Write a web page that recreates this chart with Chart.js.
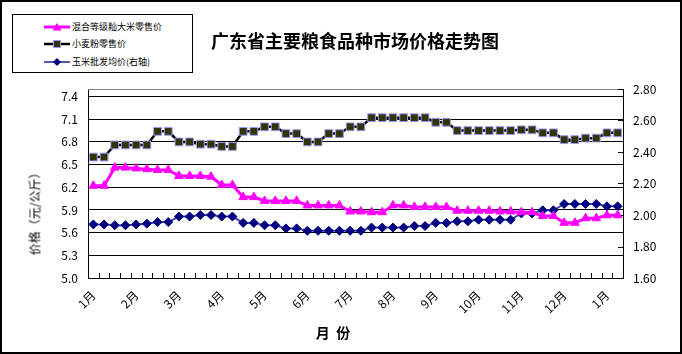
<!DOCTYPE html>
<html>
<head>
<meta charset="utf-8">
<script src="https://cdn.jsdelivr.net/npm/chart.js@4.4.0/dist/chart.umd.min.js"></script>
<style>
  html, body { margin: 0; padding: 0; background: #fff; }
  #wrap { position: relative; width: 682px; height: 354px; overflow: hidden;
          font-family: SimSun, "Noto Sans CJK SC", sans-serif; color: #000; }
  #chart { position: absolute; left: 0; top: 0; }
  #frame { position: absolute; left: 0; top: 0; width: 682px; height: 354px;
           box-sizing: border-box; border: 2px solid #000; pointer-events: none; }
  #title { position: absolute; left: 190px; top: 27px; width: 330px; text-align: center;
           font-size: 18px; font-weight: bold; white-space: nowrap; }
  #legend { position: absolute; left: 12px; top: 14px; width: 181px; height: 59px;
            box-sizing: border-box; border: 1px solid #000; background: #fff; }
  .row { position: absolute; left: 31px; height: 12px; font-size: 9px; line-height: 12px; white-space: nowrap; }
  .row svg { position: absolute; left: 0; top: 1px; }
  .row span { position: absolute; left: 28px; top: 0; }
  #ytitle { position: absolute; left: 34px; top: 211px; font-size: 12px; white-space: nowrap;
            transform: translate(-50%, -50%) rotate(-90deg); }
  #xtitle { position: absolute; left: 333px; top: 332px; font-size: 14px; font-weight: bold;
            white-space: pre; transform: translate(-50%, -50%); }
</style>
</head>
<body>
<div id="wrap">
  <canvas id="chart" width="682" height="354"></canvas>
  <div id="title">广东省主要粮食品种市场价格走势图</div>
  <div id="legend">
    <div class="row" style="top:6px">
      <svg width="26" height="10"><line x1="0" y1="5" x2="26" y2="5" stroke="#FF00FF" stroke-width="3"/><polygon points="13,1 17.5,8.5 8.5,8.5" fill="#FF00FF"/></svg>
      <span>混合等级籼大米零售价</span>
    </div>
    <div class="row" style="top:23px">
      <svg width="26" height="10"><line x1="0" y1="5" x2="26" y2="5" stroke="#000" stroke-width="2.5"/><rect x="9.5" y="1.5" width="7" height="7" fill="#333300" stroke="#9999FF" stroke-width="1"/></svg>
      <span>小麦粉零售价</span>
    </div>
    <div class="row" style="top:41px">
      <svg width="26" height="10"><line x1="0" y1="5" x2="26" y2="5" stroke="#5555AA" stroke-width="2"/><polygon points="13,1 17,5 13,9 9,5" fill="#000080"/></svg>
      <span>玉米批发均价(右轴)</span>
    </div>
  </div>
  <div id="ytitle">价格（元/公斤）</div>
  <div id="xtitle">月  份</div>
  <div id="frame"></div>
</div>
<script>
(function() {
  'use strict';

  // 月份标签（每4期标一次）
  const monthLabels = ['1月', '2月', '3月', '4月', '5月', '6月', '7月', '8月', '9月', '10月', '11月', '12月', '1月'];
  const labelEvery = 4;

  // 混合等级籼大米零售价（左轴，元/公斤）
  const riceRetail = [
    6.22, 6.22, 6.46, 6.46, 6.45, 6.44, 6.43, 6.43, 6.35, 6.35,
    6.35, 6.34, 6.23, 6.23, 6.07, 6.07, 6.02, 6.02, 6.02, 6.02,
    5.96, 5.96, 5.96, 5.96, 5.88, 5.88, 5.87, 5.87, 5.96, 5.96,
    5.94, 5.94, 5.94, 5.94, 5.89, 5.89, 5.89, 5.89, 5.88, 5.88,
    5.87, 5.87, 5.82, 5.82, 5.73, 5.73, 5.79, 5.79, 5.83, 5.83
  ];

  // 小麦粉零售价（左轴）
  const flourRetail = [
    6.60, 6.60, 6.76, 6.76, 6.76, 6.76, 6.94, 6.94, 6.80, 6.80,
    6.77, 6.77, 6.74, 6.74, 6.94, 6.94, 7.00, 7.00, 6.91, 6.91,
    6.80, 6.80, 6.91, 6.91, 7.00, 7.00, 7.12, 7.12, 7.12, 7.12,
    7.12, 7.12, 7.06, 7.06, 6.95, 6.95, 6.95, 6.95, 6.95, 6.95,
    6.96, 6.96, 6.92, 6.92, 6.83, 6.83, 6.85, 6.85, 6.92, 6.92
  ];

  // 玉米批发均价（右轴）
  const cornWholesale = [
    1.94, 1.94, 1.935, 1.935, 1.94, 1.945, 1.955, 1.955, 1.99, 1.99,
    2.00, 2.00, 1.99, 1.99, 1.95, 1.95, 1.935, 1.935, 1.915, 1.915,
    1.90, 1.90, 1.90, 1.90, 1.90, 1.90, 1.92, 1.92, 1.92, 1.92,
    1.93, 1.93, 1.95, 1.95, 1.96, 1.96, 1.97, 1.97, 1.97, 1.97,
    2.01, 2.01, 2.03, 2.03, 2.07, 2.07, 2.07, 2.07, 2.055, 2.055
  ];

  const leftTicks = [5.0, 5.3, 5.6, 5.9, 6.2, 6.5, 6.8, 7.1, 7.4];
  const rightTicks = [1.6, 1.8, 2.0, 2.2, 2.4, 2.6, 2.8];

  const labels = riceRetail.map((v, i) => (i % labelEvery === 0 ? monthLabels[i / labelEvery] : ''));

  const tickFont = { family: 'SimSun, "Noto Sans CJK SC", sans-serif', size: 12 };

  // 内向刻度线 + 顶部灰色边框
  const innerTicks = {
    id: 'innerTicks',
    beforeDatasetsDraw(chart) {
      const ctx = chart.ctx;
      const area = chart.chartArea;
      const x = chart.scales.x;
      const y1 = chart.scales.y1;
      ctx.save();
      ctx.strokeStyle = '#808080';
      ctx.lineWidth = 1;
      ctx.beginPath();
      ctx.moveTo(area.left, area.top + 0.5);
      ctx.lineTo(area.right, area.top + 0.5);
      ctx.stroke();
      ctx.strokeStyle = '#000';
      ctx.beginPath();
      for (let i = 0; i <= labels.length; i++) {
        const px = Math.round(x.getPixelForValue(i - 0.5)) + 0.5;
        ctx.moveTo(px, area.bottom);
        ctx.lineTo(px, area.bottom - 5);
      }
      y1.ticks.forEach(t => {
        const py = Math.round(y1.getPixelForValue(t.value)) + 0.5;
        ctx.moveTo(area.right, py);
        ctx.lineTo(area.right - 5, py);
      });
      ctx.stroke();
      ctx.restore();
    }
  };

  function init() {
    const ctx = document.getElementById('chart').getContext('2d');
    new Chart(ctx, {
      type: 'line',
      data: {
        labels: labels,
        datasets: [{
          label: '混合等级籼大米零售价',
          data: riceRetail,
          yAxisID: 'y',
          borderColor: '#FF00FF',
          backgroundColor: '#FF00FF',
          borderWidth: 3,
          pointStyle: 'triangle',
          pointRadius: 5,
          pointBorderWidth: 1,
          tension: 0
        }, {
          label: '小麦粉零售价',
          data: flourRetail,
          yAxisID: 'y',
          borderColor: '#000000',
          backgroundColor: '#333300',
          pointBorderColor: '#9999FF',
          borderWidth: 2.5,
          pointStyle: 'rect',
          pointRadius: 5.5,
          pointBorderWidth: 1,
          tension: 0
        }, {
          label: '玉米批发均价(右轴)',
          data: cornWholesale,
          yAxisID: 'y1',
          borderColor: '#4444AA',
          backgroundColor: '#000080',
          pointBorderColor: '#000080',
          borderWidth: 2,
          pointStyle: 'rectRot',
          pointRadius: 4.5,
          pointBorderWidth: 1,
          tension: 0
        }]
      },
      options: {
        responsive: false,
        animation: false,
        layout: { padding: { top: 89, left: 0, right: 0, bottom: 0 } },
        plugins: {
          legend: { display: false },
          title: { display: false },
          tooltip: { enabled: false }
        },
        scales: {
          x: {
            offset: true,
            afterFit: s => { s.height = 76; },
            afterCalculateLabelRotation: s => { s.labelRotation = 45; },
            grid: { display: true, drawOnChartArea: false, drawTicks: false, offset: true },
            border: { display: true, color: '#000', width: 1 },
            ticks: {
              autoSkip: false,
              maxRotation: 90,
              minRotation: 45,
              padding: 10,
              color: '#000',
              font: tickFont
            }
          },
          y: {
            position: 'left',
            min: 5.0,
            max: 7.5,
            afterFit: s => { s.width = 88; },
            afterBuildTicks: s => { s.ticks = leftTicks.map(v => ({ value: v })); },
            grid: { color: '#000', lineWidth: 1, drawTicks: false },
            border: { display: true, color: '#000', width: 1 },
            ticks: {
              padding: 10,
              color: '#000',
              font: tickFont,
              callback: v => Number(v).toFixed(1)
            }
          },
          y1: {
            position: 'right',
            min: 1.6,
            max: 2.8,
            afterFit: s => { s.width = 59; },
            afterBuildTicks: s => { s.ticks = rightTicks.map(v => ({ value: v })); },
            grid: { drawOnChartArea: false, drawTicks: false },
            border: { display: true, color: '#000', width: 1 },
            ticks: {
              padding: 10,
              color: '#000',
              font: tickFont,
              callback: v => Number(v).toFixed(2)
            }
          }
        }
      },
      plugins: [innerTicks]
    });
  }

  if (document.readyState === 'loading') {
    document.addEventListener('DOMContentLoaded', init);
  } else {
    init();
  }
})();
</script>
</body>
</html>
